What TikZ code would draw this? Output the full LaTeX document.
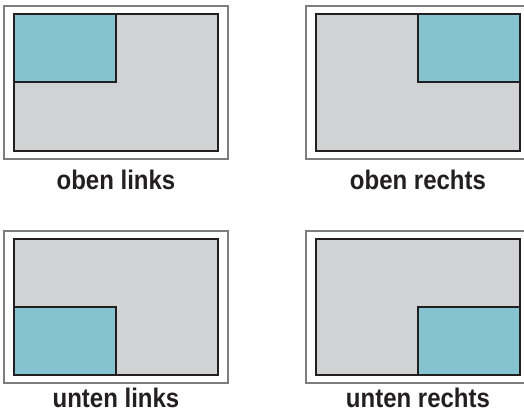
\documentclass[tikz,border=0pt]{standalone}
\usepackage{fontspec}
\setmainfont{Liberation Sans}
\definecolor{framegray}{HTML}{7D7D7F}
\definecolor{panelgray}{HTML}{D1D2D4}
\definecolor{panelblue}{HTML}{86C3D0}
\definecolor{edgeblack}{HTML}{231F20}
\begin{document}
\begin{tikzpicture}[x=1pt,y=-1pt,
  frame/.style={draw=framegray,line width=1.6pt,fill=white},
  panel/.style={draw=edgeblack,line width=2pt,fill=panelgray},
  inset/.style={draw=edgeblack,line width=1.2pt,fill=panelblue},
  caption/.style={anchor=base,inner sep=0pt,text=edgeblack,font=\bfseries\fontsize{24}{24}\selectfont}]
\useasboundingbox (0,0) rectangle (524,412);
% top left
\draw[frame] (4,6) rectangle (228,159);
\draw[panel] (14,14) rectangle (218,151);
\draw[inset] (14,14) rectangle (116,82);
\draw[edgeblack,line width=2pt] (14,14) rectangle (218,151);
\node[caption] (ol) at (116,189) {\scalebox{1}[1.12]{oben links}};
% top right
\draw[frame] (306,6) rectangle (530,159);
\draw[panel] (316,14) rectangle (520,151);
\draw[inset] (418,14) rectangle (520,82);
\draw[edgeblack,line width=2pt] (316,14) rectangle (520,151);
\node[caption] (or) at (418,189) {\scalebox{1}[1.12]{oben rechts}};
% bottom left
\draw[frame] (4,231) rectangle (228,383);
\draw[panel] (14,239) rectangle (218,375);
\draw[inset] (14,307) rectangle (116,375);
\draw[edgeblack,line width=2pt] (14,239) rectangle (218,375);
\node[caption] (ul) at (116,407.5) {\scalebox{1}[1.12]{unten links}};
% bottom right
\draw[frame] (306,231) rectangle (530,383);
\draw[panel] (316,239) rectangle (520,375);
\draw[inset] (418,307) rectangle (520,375);
\draw[edgeblack,line width=2pt] (316,239) rectangle (520,375);
\node[caption] (ur) at (418,407.5) {\scalebox{1}[1.12]{unten rechts}};
\end{tikzpicture}
\end{document}
